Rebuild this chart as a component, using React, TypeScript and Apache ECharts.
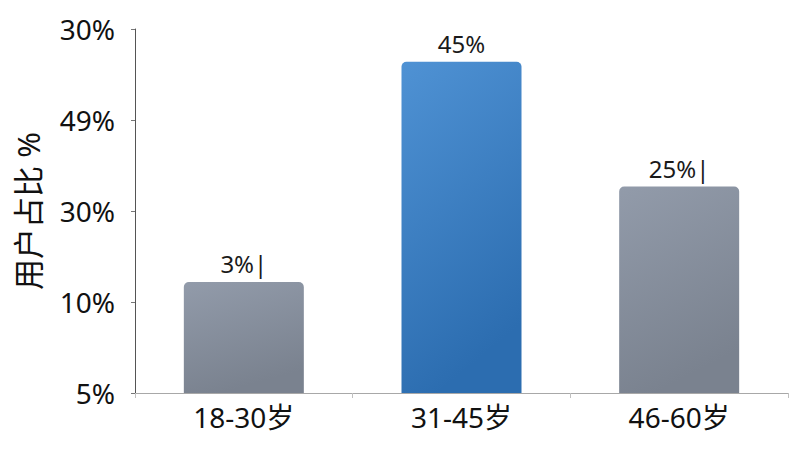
import { useEffect, useRef } from 'react'
import * as echarts from 'echarts'

const categories = ['18-30岁', '31-45岁', '46-60岁']
// bar heights in axis steps (one step = one tick on the y axis)
const barValues = [1.22, 3.64, 2.27]
const barLabels = ['3%|', '45%', '25%|']
// tick labels from bottom to top, as printed in the original
const yTickLabels = ['5%', '10%', '30%', '49%', '30%']
const highlightIndex = 1

const FONT = '"Noto Sans", "Noto Sans CJK SC", sans-serif'

const grayFill = new echarts.graphic.LinearGradient(0, 0, 0.3, 1, [
  { offset: 0, color: '#929baa' },
  { offset: 1, color: '#7a828f' },
])
const blueFill = new echarts.graphic.LinearGradient(0, 0, 0.3, 1, [
  { offset: 0, color: '#4f92d4' },
  { offset: 1, color: '#2c6db0' },
])

export default function App() {
  const chartRef = useRef<HTMLDivElement>(null)

  useEffect(() => {
    if (!chartRef.current) return
    const chart = echarts.init(chartRef.current, undefined, { renderer: 'svg' })

    const option: echarts.EChartsOption = {
      animation: false,
      backgroundColor: '#ffffff',
      grid: { left: 135, right: 12, top: 29, bottom: 57 },
      xAxis: {
        type: 'category',
        data: categories,
        axisLine: { lineStyle: { color: '#a8a8a8', width: 1 } },
        axisTick: { show: true, length: 5, lineStyle: { color: '#c0c0c0' } },
        axisLabel: {
          color: '#111111',
          fontSize: 28,
          fontFamily: FONT,
          margin: 10,
        },
      },
      yAxis: {
        type: 'value',
        min: 0,
        max: 4,
        interval: 1,
        name: '用户占比 %',
        nameLocation: 'middle',
        nameGap: 92,
        nameTextStyle: { color: '#111111', fontSize: 31, fontFamily: FONT },
        axisLine: { show: true, lineStyle: { color: '#555555', width: 1 } },
        axisTick: { show: true, length: 4, lineStyle: { color: '#777777' } },
        splitLine: { show: false },
        axisLabel: {
          color: '#111111',
          fontSize: 28,
          fontFamily: FONT,
          margin: 20,
          formatter: (v: number) => yTickLabels[Math.round(v)] ?? '',
        },
      },
      series: [
        {
          type: 'bar',
          barWidth: 120,
          data: barValues.map((v, i) => ({
            value: v,
            itemStyle: {
              color: i === highlightIndex ? blueFill : grayFill,
              borderRadius: [5, 5, 0, 0],
            },
          })),
          label: {
            show: true,
            position: 'top',
            distance: 6,
            color: '#1a1a1a',
            fontSize: 24,
            fontFamily: FONT,
            formatter: (p: any) => barLabels[p.dataIndex],
          },
        },
      ],
    }

    chart.setOption(option)
    return () => chart.dispose()
  }, [])

  return (
    <div
      ref={chartRef}
      style={{ position: 'fixed', left: 0, top: 0, width: 800, height: 450 }}
    />
  )
}
